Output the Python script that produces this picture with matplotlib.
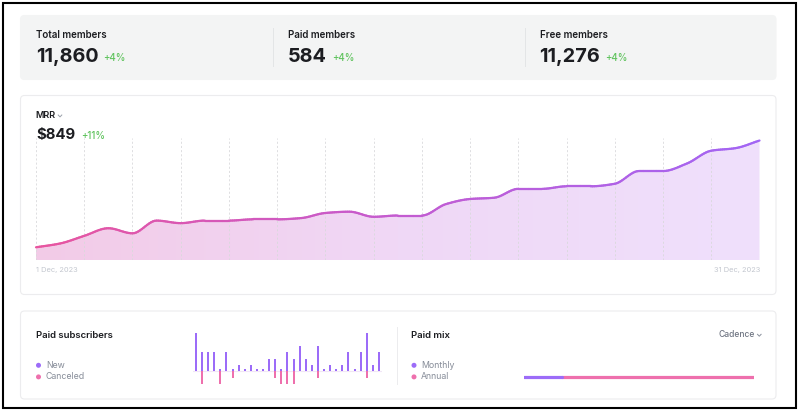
import numpy as np
import matplotlib
matplotlib.use("Agg")
import matplotlib.pyplot as plt
from matplotlib.patches import FancyBboxPatch, Polygon, Rectangle
from matplotlib.path import Path
from matplotlib.collections import LineCollection
from matplotlib.colors import LinearSegmentedColormap


plt.rcParams["font.family"] = ["Inter", "DejaVu Sans"]

# ----------------------------
# Data
# ----------------------------
stat_labels = ["Total members", "Paid members", "Free members"]
stat_values = ["11,860", "584", "11,276"]
stat_changes = ["+4%", "+4%", "+4%"]

mrr_label = "MRR"
mrr_value = "$849"
mrr_change = "+11%"
days = np.arange(1, 32)
mrr = [765, 768, 774, 780, 776, 786, 784, 786, 786, 787, 787, 788, 792, 793, 789, 790,
       790, 799, 803, 804, 811, 811, 813, 813, 815, 825, 825, 831, 841, 843, 849]
date_start = "1 Dec, 2023"
date_end = "31 Dec, 2023"

new_subs = [6, 3, 3, 3, 0, 3, 0, 1, 0, 1, 0, 0, 2, 2, 0, 3, 2, 4, 2, 1, 4, 0, 1, 0, 1, 3,
            0, 3, 6, 1, 3]
canceled_subs = [0, 2, 0, 0, 2, 0, 1, 0, 0, 0, 0, 0, 0, 1, 2, 2, 2, 0, 0, 0, 1, 0, 0, 0,
                 0, 0, 0, 0, 1, 0, 0]
sub_legend = ["New", "Canceled"]

mix_labels = ["Monthly", "Annual"]
mix_values = [99, 485]

# ----------------------------
# Style
# ----------------------------
W, H = 800, 411
DARK = "#1c1d21"
GREEN = "#5fc35d"
GREY_TXT = "#878d99"
PURPLE = "#9c6cf8"
PINK = "#ee70ad"

line_cmap = LinearSegmentedColormap.from_list("line", ["#e8559f", "#c45bd0", "#a265f4"])
fill_cmap = LinearSegmentedColormap.from_list("fill", ["#f3cbe7", "#f0d8f6", "#efe0fc"])


def px_axes(fig, x0, y0, x1, y1):
    return fig.add_axes([x0 / W, 1 - y1 / H, (x1 - x0) / W, (y1 - y0) / H])


def chevron(ax, x, y, color):
    ax.plot([x - 1.8, x, x + 1.8], [y - 1.0, y + 0.9, y - 1.0], color=color, lw=0.7)


def card(ax, x0, y0, x1, y1, face, edge):
    ax.add_patch(FancyBboxPatch((x0, y0), x1 - x0, y1 - y0,
                                boxstyle="round,pad=0,rounding_size=4",
                                fc=face, ec=edge, lw=0.8))


fig = plt.figure(figsize=(W / 100, H / 100), dpi=100)
bg = fig.add_axes([0, 0, 1, 1])
bg.set_xlim(0, W)
bg.set_ylim(H, 0)
bg.axis("off")

# outer frame
bg.add_patch(Rectangle((2.8, 2.8), 793.4, 405.2, fc="none", ec="black", lw=1.5))

# ----------------------------
# Stat strip
# ----------------------------
card(bg, 20.5, 15.5, 776, 79.5, "#f3f4f4", "#f3f4f4")
stat_x = [36, 288, 539.5]
for i, (lab, val, chg) in enumerate(zip(stat_labels, stat_values, stat_changes)):
    x = stat_x[i]
    bg.text(x, 35.5, lab, fontsize=7.0, fontweight="semibold", color=DARK, va="center")
    t = bg.text(x, 61.5, val, fontsize=14.3, fontweight="bold", color=DARK, va="baseline")
    fig.canvas.draw()
    bb = t.get_window_extent()
    bg.text(bb.x1 + 5.0, 61.3, chg, fontsize=7.0, fontweight="medium", color=GREEN,
            va="baseline")
for xd in [273, 525]:
    bg.plot([xd, xd], [28, 66.5], color="#e3e5e6", lw=0.7)

# ----------------------------
# MRR card
# ----------------------------
card(bg, 20.5, 95.5, 776, 294.5, "white", "#ececee")
bg.text(35.5, 115.5, mrr_label, fontsize=6.6, fontweight="semibold", color=DARK, va="center")
chevron(bg, 60, 116, "#9aa0aa")
t = bg.text(36, 139.3, mrr_value, fontsize=10.8, fontweight="bold", color=DARK, va="baseline")
fig.canvas.draw()
bb = t.get_window_extent()
bg.text(bb.x1 + 6.5, 139, mrr_change, fontsize=7.0, fontweight="medium", color=GREEN,
        va="baseline")
bg.text(36, 270, date_start, fontsize=5.4, color="#c3c7cf", va="center")
bg.text(760, 270, date_end, fontsize=5.4, color="#c3c7cf", va="center", ha="right")

ax = px_axes(fig, 36, 138, 759.5, 260)
ymin, ymax = 755, 851
ax.set_xlim(days[0], days[-1])
ax.set_ylim(ymin, ymax)
ax.axis("off")

# monotone cubic path through the points
y = np.asarray(mrr, dtype=float)
d = np.diff(y)
m = np.zeros_like(y)
m[0], m[-1] = d[0], d[-1]
for i in range(1, len(y) - 1):
    if d[i - 1] * d[i] > 0:
        m[i] = 2 * d[i - 1] * d[i] / (d[i - 1] + d[i])
verts = [(days[0], y[0])]
codes = [Path.MOVETO]
for i in range(len(y) - 1):
    verts += [(days[i] + 1 / 3, y[i] + m[i] / 3),
              (days[i + 1] - 1 / 3, y[i + 1] - m[i + 1] / 3),
              (days[i + 1], y[i + 1])]
    codes += [Path.CURVE4] * 3
path = Path(verts, codes)
pts = np.vstack([seg(np.linspace(0, 1, 14)) for seg, _ in path.iter_bezier()])

fill_poly = Polygon(np.vstack([pts, [[days[-1], ymin], [days[0], ymin]]]),
                    closed=True, fc="none", ec="none", transform=ax.transData)
ax.add_patch(fill_poly)
grad = np.linspace(0, 1, 256).reshape(1, -1)
im = ax.imshow(grad, extent=(days[0], days[-1], ymin, ymax), aspect="auto",
               cmap=fill_cmap, origin="lower", zorder=1)
im.set_clip_path(fill_poly)

ax.vlines(days[::2], ymin, ymax, color="#d9d9dc", lw=0.6, linestyles=(0, (2.5, 2.5)),
          zorder=2)

segs = np.stack([pts[:-1], pts[1:]], axis=1)
xmid = (pts[:-1, 0] + pts[1:, 0]) / 2
lc = LineCollection(segs, colors=line_cmap((xmid - days[0]) / (days[-1] - days[0])),
                    linewidths=1.6, capstyle="round", joinstyle="round", zorder=3)
lc.set_clip_on(False)
ax.add_collection(lc)

# ----------------------------
# Bottom card: subscribers + mix
# ----------------------------
card(bg, 20.5, 311, 776, 399, "white", "#ececee")
bg.plot([397, 397], [327, 384], color="#ececee", lw=0.7)

bg.text(36, 335, "Paid subscribers", fontsize=6.9, fontweight="semibold", color=DARK,
        va="center")
for j, (lab, col) in enumerate(zip(sub_legend, [PURPLE, PINK])):
    yy = 365.3 + j * 11.6
    bg.scatter([38.5], [yy], s=13, color=col, edgecolors="none")
    bg.text(45.8, yy, lab, fontsize=6.3, color=GREY_TXT, va="center")

axb = px_axes(fig, 192.9, 331.3, 382.0, 385.7)
axb.set_xlim(0.5, 31.5)
axb.set_ylim(-2.2, 6.2)
axb.axis("off")
min_stub = 0.33
axb.axhline(0, color="#f1e6f6", lw=0.8, zorder=1)
axb.bar(days, np.maximum(new_subs, min_stub), width=0.34, color=PURPLE, zorder=2)
axb.bar(days, -np.asarray(canceled_subs), width=0.34, color=PINK, zorder=2)

bg.text(411.3, 335, "Paid mix", fontsize=6.9, fontweight="semibold", color=DARK,
        va="center")
bg.text(754.5, 334.5, "Cadence", fontsize=6.1, fontweight="medium", color="#6f7582",
        va="center", ha="right")
chevron(bg, 759.3, 335.3, "#8a909c")
for j, (lab, col) in enumerate(zip(mix_labels, [PURPLE, PINK])):
    yy = 365.3 + j * 11.6
    bg.scatter([414], [yy], s=13, color=col, edgecolors="none")
    bg.text(421, yy, lab, fontsize=6.3, color=GREY_TXT, va="center")

axm = px_axes(fig, 523.5, 372, 753.5, 381)
total = sum(mix_values)
axm.set_xlim(0, total)
axm.set_ylim(-1, 1)
axm.axis("off")
axm.plot([mix_values[0], total], [0, 0], color=PINK, lw=2.3, solid_capstyle="round")
axm.plot([0, mix_values[0]], [0, 0], color=PURPLE, lw=2.3, solid_capstyle="round")

fig.savefig("out.png", dpi=100)
